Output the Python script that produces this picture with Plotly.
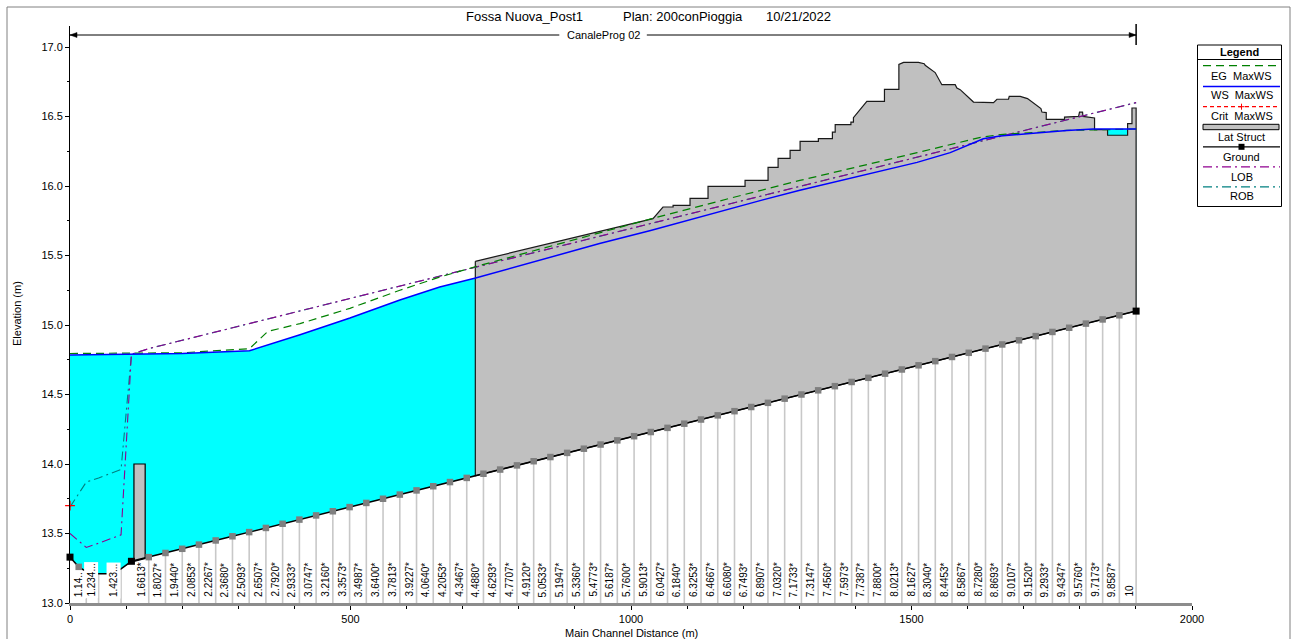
import plotly.graph_objects as go

FONT = "Arial, Liberation Sans, sans-serif"

# ---------------- text ----------------
title_river = "Fossa Nuova_Post1"
title_plan = "Plan: 200conPioggia"
title_date = "10/21/2022"
reach_name = "CanaleProg 02"
x_title = "Main Channel Distance (m)"
y_title = "Elevation (m)"

# ---------------- cross sections ----------------
sec_label = ["1.14..", "1.234...", "1.423...",
             "1.6613*", "1.8027*", "1.9440*", "2.0853*", "2.2267*", "2.3680*", "2.5093*", "2.6507*", "2.7920*", "2.9333*",
             "3.0747*", "3.2160*", "3.3573*", "3.4987*", "3.6400*", "3.7813*", "3.9227*", "4.0640*", "4.2053*", "4.3467*",
             "4.4880*", "4.6293*", "4.7707*", "4.9120*", "5.0533*", "5.1947*", "5.3360*", "5.4773*", "5.6187*", "5.7600*",
             "5.9013*", "6.0427*", "6.1840*", "6.3253*", "6.4667*", "6.6080*", "6.7493*", "6.8907*", "7.0320*", "7.1733*",
             "7.3147*", "7.4560*", "7.5973*", "7.7387*", "7.8800*", "8.0213*", "8.1627*", "8.3040*", "8.4453*", "8.5867*",
             "8.7280*", "8.8693*", "9.0107*", "9.1520*", "9.2933*", "9.4347*", "9.5760*", "9.7173*", "9.8587*", "10"]
sec_dist = [29, 51, 91,
            140.4, 170.2, 200.1, 229.9, 259.7, 289.6, 319.4, 349.2, 379.0, 408.9,
            438.7, 468.5, 498.4, 528.2, 558.0, 587.9, 617.7, 647.5, 677.3, 707.2,
            737.0, 766.8, 796.7, 826.5, 856.3, 886.2, 916.0, 945.8, 975.6, 1005.5,
            1035.3, 1065.1, 1095.0, 1124.8, 1154.6, 1184.5, 1214.3, 1244.1, 1273.9, 1303.8,
            1333.6, 1363.4, 1393.3, 1423.1, 1452.9, 1482.8, 1512.6, 1542.4, 1572.2, 1602.1,
            1631.9, 1661.7, 1691.6, 1721.4, 1751.2, 1781.1, 1810.9, 1840.7, 1870.5, 1900.4]
sec_ground = [13.225, 13.21, 13.245,
              13.33, 13.36, 13.39, 13.42, 13.45, 13.48, 13.51, 13.54, 13.57, 13.60,
              13.63, 13.66, 13.69, 13.72, 13.75, 13.78, 13.81, 13.84, 13.87, 13.90,
              13.93, 13.96, 13.99, 14.02, 14.05, 14.08, 14.11, 14.14, 14.17, 14.20,
              14.23, 14.26, 14.29, 14.32, 14.35, 14.38, 14.41, 14.44, 14.47, 14.50,
              14.53, 14.56, 14.59, 14.62, 14.65, 14.68, 14.71, 14.74, 14.77, 14.80,
              14.83, 14.86, 14.89, 14.92, 14.95, 14.98, 15.01, 15.04, 15.07, 15.10]

# unlabelled ground points near upstream end
extra_dist = [0, 15.5, 70, 109.5]
extra_ground = [13.33, 13.26, 13.21, 13.30]
black_pts_dist = [0, 109.5, 1900.4]

# banks
bank_dist = [0, 29, 51, 91, 109.5,
             140.4, 170.2, 200.1, 229.9, 259.7, 289.6, 319.4, 349.2, 379.0, 408.9,
             438.7, 468.5, 498.4, 528.2, 558.0, 587.9, 617.7, 647.5, 677.3, 707.2,
             737.0, 766.8, 796.7, 826.5, 856.3, 886.2, 916.0, 945.8, 975.6, 1005.5,
             1035.3, 1065.1, 1095.0, 1124.8, 1154.6, 1184.5, 1214.3, 1244.1, 1273.9, 1303.8,
             1333.6, 1363.4, 1393.3, 1423.1, 1452.9, 1482.8, 1512.6, 1542.4, 1572.2, 1602.1,
             1631.9, 1661.7, 1691.6, 1721.4, 1751.2, 1781.1, 1810.9, 1840.7, 1870.5, 1900.4]
bank_main = [14.83, 14.86, 14.89, 14.92, 14.95, 14.98, 15.01, 15.04, 15.07, 15.10,
             15.13, 15.16, 15.19, 15.22, 15.25, 15.28, 15.31, 15.34, 15.37, 15.40,
             15.43, 15.46, 15.49, 15.52, 15.55, 15.58, 15.61, 15.64, 15.67, 15.70,
             15.73, 15.76, 15.79, 15.82, 15.85, 15.88, 15.91, 15.94, 15.97, 16.00,
             16.03, 16.06, 16.09, 16.12, 16.15, 16.18, 16.21, 16.24, 16.27, 16.30,
             16.33, 16.36, 16.39, 16.42, 16.45, 16.48, 16.51, 16.54, 16.57, 16.60]
lob_up = [13.50, 13.40, 13.43, 13.49, 14.79]
rob_up = [13.69, 13.87, 13.90, 13.96, 14.79]

# water surface and energy grade (Max WS)
ws_dist = [0, 109.5, 200, 320, 410, 499, 588, 659, 723, 944, 1035, 1235, 1301, 1510, 1569, 1628, 1658, 1717, 1777, 1824, 1900.4]
ws_elev = [14.785, 14.788, 14.795, 14.815, 14.93, 15.05, 15.18, 15.273, 15.338, 15.586, 15.68, 15.90, 15.97, 16.17, 16.24,
           16.34, 16.36, 16.38, 16.40, 16.41, 16.41]
eg_dist = [0, 200, 320, 353, 410, 499, 588, 659, 723, 944, 1046, 1194, 1301, 1510, 1623, 1658, 1777, 1900.4]
eg_elev = [14.795, 14.80, 14.83, 14.955, 15.01, 15.12, 15.25, 15.345, 15.42, 15.665, 15.775, 15.93, 16.04, 16.24,
           16.35, 16.37, 16.40, 16.41]
crit_dist = [0]
crit_elev = [13.70]

# lateral structures
lat1_dist = [114, 114, 134, 134]
lat1_elev = [13.30, 14.00, 14.00, 13.32]
lat2_start_dist = 722.5
lat2_start_ground = 13.915
lat2_top_dist = [722.5, 1039.2, 1057, 1075, 1075, 1087.2, 1105.2, 1105.2, 1137.3, 1137.3, 1203.3, 1203.3, 1244.3, 1244.3,
                 1262.2, 1262.2, 1283.6, 1283.6, 1301.4, 1301.4, 1334, 1334, 1359, 1359, 1364, 1364, 1392, 1392, 1396.5,
                 1396.5, 1420.4, 1451.8, 1451.8, 1477.5, 1477.5, 1485.8, 1512.4, 1522.6, 1524.4, 1542.2, 1554.1, 1577.9,
                 1580.9, 1586.8, 1610.5, 1646.2, 1652.3, 1672.9, 1674.2, 1693.8, 1706.8, 1730.7, 1732.5, 1740.2, 1740.2,
                 1772.8, 1772.8, 1797.8, 1799.5, 1804.9, 1805.6, 1826.3, 1826.3, 1849.5, 1849.5, 1885.2, 1885.2, 1893,
                 1893, 1900.4]
lat2_top_elev = [15.458, 15.765, 15.849, 15.849, 15.861, 15.861, 15.861, 15.911, 15.911, 15.997, 15.997, 16.041, 16.041,
                 16.134, 16.134, 16.199, 16.199, 16.257, 16.257, 16.321, 16.321, 16.341, 16.341, 16.388, 16.388, 16.442,
                 16.442, 16.460, 16.460, 16.492, 16.609, 16.609, 16.695, 16.695, 16.875, 16.889, 16.889, 16.880, 16.868,
                 16.816, 16.729, 16.729, 16.705, 16.693, 16.604, 16.600, 16.624, 16.624, 16.645, 16.645, 16.629, 16.557,
                 16.532, 16.528, 16.480, 16.480, 16.496, 16.501, 16.532, 16.532, 16.501, 16.489, 16.406, 16.406, 16.365,
                 16.365, 16.449, 16.449, 16.561, 16.561]

# ---------------- layout geometry ----------------
W, H = 1292, 639
ML, MR, MT, MB = 70, 100, 26, 36
PW, PH = W - ML - MR, H - MT - MB
Y0 = 13.0
Y1 = 13.0 + PH / 139.0


def pxx(p):
    return (p - ML) / PW


def pxy(p):
    return (H - MB - p) / PH


fig = go.Figure()

# ground profile (merged)
g_pts = sorted(list(zip(sec_dist, sec_ground)) + list(zip(extra_dist, extra_ground)))
g_x = [p[0] for p in g_pts]
g_y = [p[1] for p in g_pts]

# water (cyan) area
fig.add_trace(go.Scatter(x=ws_dist + g_x[::-1], y=ws_elev + g_y[::-1], mode="lines", fill="toself",
                         fillcolor="#00FFFF", line=dict(width=0), hoverinfo="skip"))

# lateral structures
fig.add_trace(go.Scatter(x=lat1_dist + [lat1_dist[0]], y=lat1_elev + [lat1_elev[0]], mode="lines", fill="toself",
                         fillcolor="#C0C0C0", line=dict(color="black", width=1.2), hoverinfo="skip"))
bot = [(d, g) for d, g in zip(sec_dist, sec_ground) if d > lat2_start_dist]
l2x = lat2_top_dist + [b[0] for b in bot[::-1]] + [lat2_start_dist, lat2_start_dist]
l2y = lat2_top_elev + [b[1] for b in bot[::-1]] + [lat2_start_ground, lat2_top_elev[0]]
fig.add_trace(go.Scatter(x=l2x, y=l2y, mode="lines", fill="toself", fillcolor="#C0C0C0",
                         line=dict(color="#1a1a1a", width=1.2), hoverinfo="skip"))

# section drop lines
vx, vy = [], []
for d, g in zip(sec_dist, sec_ground):
    vx += [d, d, None]
    vy += [g, Y0, None]
fig.add_trace(go.Scatter(x=vx, y=vy, mode="lines", line=dict(color="#c8c8c8", width=1.6), hoverinfo="skip"))

# ground
fig.add_trace(go.Scatter(x=g_x, y=g_y, mode="lines", line=dict(color="black", width=1.5), hoverinfo="skip"))
gm = [(d, g) for d, g in g_pts if d not in black_pts_dist and d not in sec_dist[:3] and d != 70]
fig.add_trace(go.Scatter(x=[p[0] for p in gm], y=[p[1] for p in gm], mode="markers", cliponaxis=False,
                         marker=dict(symbol="square", size=6.5, color="#7f7f7f"), hoverinfo="skip"))
bm = [(d, g) for d, g in g_pts if d in black_pts_dist]
fig.add_trace(go.Scatter(x=[p[0] for p in bm], y=[p[1] for p in bm], mode="markers", cliponaxis=False,
                         marker=dict(symbol="square", size=7, color="black"), hoverinfo="skip"))

# banks
lob = lob_up + bank_main
rob = rob_up + bank_main
fig.add_trace(go.Scatter(x=bank_dist, y=rob, mode="lines", line=dict(color="#008080", width=1.1, dash="9px,4px,2px,4px"),
                         hoverinfo="skip"))
fig.add_trace(go.Scatter(x=bank_dist, y=lob, mode="lines", line=dict(color="#900090", width=1.1, dash="9px,4px,2px,4px"),
                         hoverinfo="skip"))

# EG and WS
fig.add_trace(go.Scatter(x=eg_dist, y=eg_elev, mode="lines", line=dict(color="#008000", width=1.2, dash="8px,5px"),
                         hoverinfo="skip"))
fig.add_trace(go.Scatter(x=ws_dist, y=ws_elev, mode="lines", line=dict(color="#0000FF", width=1.5), hoverinfo="skip"))
fig.add_trace(go.Scatter(x=crit_dist, y=crit_elev, mode="markers", cliponaxis=False,
                         marker=dict(symbol="cross-thin", size=7, line=dict(color="red", width=1.3)), hoverinfo="skip"))

shapes = []
ann = []


def pann(x, y, text, size=11, **kw):
    d = dict(x=pxx(x), y=pxy(y), xref="paper", yref="paper", text=text, showarrow=False,
             xanchor="center", yanchor="middle", font=dict(size=size, family=FONT, color="black"))
    d.update(kw)
    return d


# section labels
for lab, d in zip(sec_label, sec_dist):
    ann.append(dict(x=d, y=Y0, xref="x", yref="y", text=lab, textangle=-90, showarrow=False,
                    xanchor="right", yanchor="bottom", yshift=4, xshift=0,
                    font=dict(size=10, family=FONT, color="black"),
                    bgcolor="white" if lab.endswith("..") else "rgba(0,0,0,0)", borderpad=1))

# title
for txt, cx in [(title_river, 524), (title_plan, 683), (title_date, 798)]:
    ann.append(pann(cx, 16.7, txt, size=13))

# reach line
y_reach = 13.0 + (H - MB - 35) / 139.0
x_mid = (0 + sec_dist[-1]) / 2
gap = 78
shapes.append(dict(type="line", xref="x", yref="y", x0=0, x1=x_mid - gap, y0=y_reach, y1=y_reach,
                   line=dict(color="black", width=1)))
shapes.append(dict(type="line", xref="x", yref="y", x0=x_mid + gap, x1=sec_dist[-1], y0=y_reach, y1=y_reach,
                   line=dict(color="black", width=1)))
shapes.append(dict(type="line", xref="x", yref="paper", x0=sec_dist[-1], x1=sec_dist[-1], y0=pxy(45), y1=pxy(24),
                   line=dict(color="black", width=1.5)))
xr = ML + sec_dist[-1] * PW / 2000.0
shapes.append(dict(type="path", xref="paper", yref="paper",
                   path=f"M {pxx(ML)},{pxy(35)} L {pxx(ML+7)},{pxy(32.5)} L {pxx(ML+7)},{pxy(37.5)} Z",
                   fillcolor="black", line=dict(color="black", width=0.5)))
shapes.append(dict(type="path", xref="paper", yref="paper",
                   path=f"M {pxx(xr)},{pxy(35)} L {pxx(xr-7)},{pxy(32.5)} L {pxx(xr-7)},{pxy(37.5)} Z",
                   fillcolor="black", line=dict(color="black", width=0.5)))
ann.append(dict(x=x_mid, y=y_reach, xref="x", yref="y", text=reach_name, showarrow=False,
                xanchor="center", yanchor="middle", font=dict(size=11, family=FONT, color="black")))

# axis titles
ann.append(pann(631, 632.5, x_title))
ann.append(pann(17, 314, y_title, textangle=-90))

# outer frame
shapes.append(dict(type="path", xref="paper", yref="paper",
                   path=f"M {pxx(7)},{pxy(640)} L {pxx(7)},{pxy(7)} L {pxx(1290)},{pxy(7)} L {pxx(1290)},{pxy(640)}",
                   line=dict(color="#808080", width=1)))

# legend (drawn)
LX0, LX1 = 1197.5, 1281.5
shapes.append(dict(type="rect", xref="paper", yref="paper", x0=pxx(LX0), x1=pxx(LX1), y0=pxy(206.5), y1=pxy(45),
                   fillcolor="white", line=dict(color="black", width=1)))
shapes.append(dict(type="line", xref="paper", yref="paper", x0=pxx(LX0), x1=pxx(LX1), y0=pxy(59.5), y1=pxy(59.5),
                   line=dict(color="black", width=1)))
ann.append(pann(1239.5, 52, "<b>Legend</b>"))
LS0, LS1, LC = 1203, 1280, 1241.5
leg_items = [
    ("EG  MaxWS", 65.7, 75.5, dict(color="#008000", width=1.2, dash="8px,5px")),
    ("WS  MaxWS", 86.5, 95.5, dict(color="#0000FF", width=1.5)),
    ("Crit  MaxWS", 106.7, 115.5, dict(color="red", width=1.2, dash="4px,3px")),
    ("Lat Struct", None, 136.5, None),
    ("Ground", 146.8, 156.5, dict(color="black", width=1.2)),
    ("LOB", 166.8, 176.5, dict(color="#900090", width=1.2, dash="9px,4px,2px,4px")),
    ("ROB", 186.8, 196.5, dict(color="#008080", width=1.2, dash="9px,4px,2px,4px")),
]
for name, ly, ty, lst in leg_items:
    if lst is not None:
        shapes.append(dict(type="line", xref="paper", yref="paper", x0=pxx(LS0), x1=pxx(LS1), y0=pxy(ly), y1=pxy(ly),
                           line=lst))
    ann.append(pann(LC, ty, name.replace("  ", "&nbsp;&nbsp;")))
shapes.append(dict(type="rect", xref="paper", yref="paper", x0=pxx(LS0), x1=pxx(1279), y0=pxy(129.7), y1=pxy(124.3),
                   fillcolor="#C0C0C0", line=dict(color="black", width=1)))
shapes.append(dict(type="rect", xref="paper", yref="paper", x0=pxx(LC - 3), x1=pxx(LC + 3), y0=pxy(149.8), y1=pxy(143.8),
                   fillcolor="black", line=dict(color="black", width=0)))
shapes.append(dict(type="line", xref="paper", yref="paper", x0=pxx(LC - 3), x1=pxx(LC + 3), y0=pxy(106.7), y1=pxy(106.7),
                   line=dict(color="red", width=1)))
shapes.append(dict(type="line", xref="paper", yref="paper", x0=pxx(LC), x1=pxx(LC), y0=pxy(103.7), y1=pxy(109.7),
                   line=dict(color="red", width=1)))

ytv = [13.0, 13.5, 14.0, 14.5, 15.0, 15.5, 16.0, 16.5, 17.0]
fig.update_layout(
    width=W, height=H, margin=dict(l=ML, r=MR, t=MT, b=MB, pad=0),
    plot_bgcolor="white", paper_bgcolor="white", showlegend=False,
    shapes=shapes, annotations=ann,
    xaxis=dict(range=[0, 2000], tickvals=[0, 500, 1000, 1500, 2000], ticks="outside", ticklen=4, tickcolor="black",
               showline=True, linecolor="#8c8c8c", linewidth=2.5, showgrid=False, zeroline=False,
               tickfont=dict(size=11, family=FONT, color="black"),
               minor=dict(dtick=100, tick0=0, ticks="outside", ticklen=3, tickcolor="black", showgrid=False)),
    yaxis=dict(range=[Y0, Y1], tickvals=ytv, ticktext=[f"{v:.1f}" for v in ytv], ticks="outside", ticklen=4,
               tickcolor="black", showline=True, linecolor="black", linewidth=1, showgrid=False, zeroline=False,
               tickfont=dict(size=11, family=FONT, color="black"),
               minor=dict(dtick=0.25, tick0=0, ticks="outside", ticklen=2, tickcolor="black", showgrid=False)),
)

fig.write_html("out.html", config={"displayModeBar": False, "staticPlot": True},
               post_script="document.body.style.margin='0px';document.body.style.overflow='hidden';")
